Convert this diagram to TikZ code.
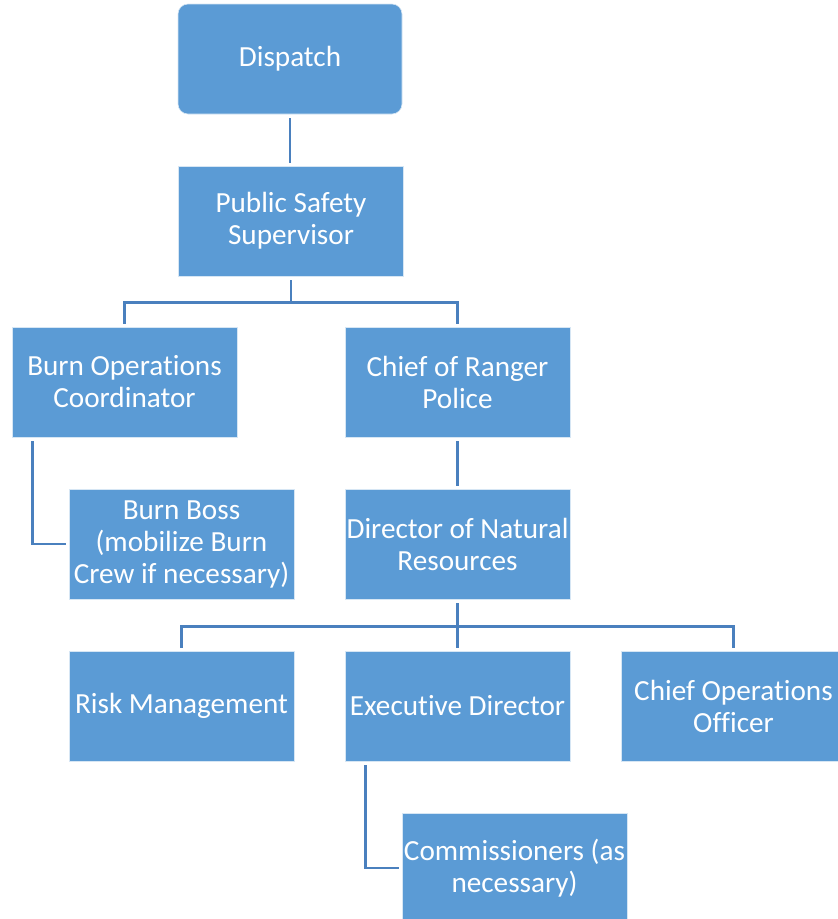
\documentclass[tikz,border=0pt]{standalone}
\usepackage{fontspec}
\setmainfont{Carlito}[Ligatures=NoCommon]
\definecolor{boxblue}{HTML}{5B9BD5}
\definecolor{linkblue}{HTML}{4A80BE}
\begin{document}
\begin{tikzpicture}[x=1pt,y=-1pt,
  unit/.style={fill=boxblue, draw=white!75!boxblue, line width=0.6pt,
    minimum width=225pt, minimum height=110pt, inner sep=0pt,
    text=white, align=center, font=\fontsize{29.2}{32}\selectfont},
  link/.style={draw=linkblue, line width=2.6pt, shorten <=4pt, shorten >=3pt}]
\useasboundingbox (0,0) rectangle (838,919);

% boxes of the chart
\node[unit, rounded corners=10pt, minimum width=224pt] (disp) at (290,59) {Dispatch};
\node[unit] (pss) at (291,221) {Public Safety\\Supervisor};
\node[unit] (boc) at (124.5,382) {Burn Operations\\Coordinator};
\node[unit] (crp) at (457.5,382) {Chief of Ranger\\Police};
\node[unit] (bb)  at (181.5,544) {Burn Boss\\(mobilize Burn\\Crew if necessary)};
\node[unit] (dnr) at (457.5,544) {Director of Natural\\Resources};
\node[unit] (rm)  at (181.5,706) {Risk Management};
\node[unit] (ed)  at (457.5,706) {Executive Director};
\node[unit] (coo) at (733.5,706) {Chief Operations\\Officer};
\node[unit] (com) at (514.5,868) {Commissioners (as\\necessary)};

% reporting lines
\draw[link] (disp.south) -- (disp.south |- pss.north);
\draw[link] (pss.south) -- ++(0,26) -| (boc.north);
\draw[link] (pss.south) -- ++(0,26) -| (crp.north);
\draw[link] ([xshift=21pt]boc.south west) |- (bb.west);
\draw[link] (crp.south) -- (dnr.north);
\draw[link] (dnr.south) -- ++(0,27) -| (rm.north);
\draw[link] (dnr.south) -- ++(0,27) -| (coo.north);
\draw[link] (dnr.south) -- (ed.north);
\draw[link] ([xshift=21pt]ed.south west) |- (com.west);
\end{tikzpicture}
\end{document}
